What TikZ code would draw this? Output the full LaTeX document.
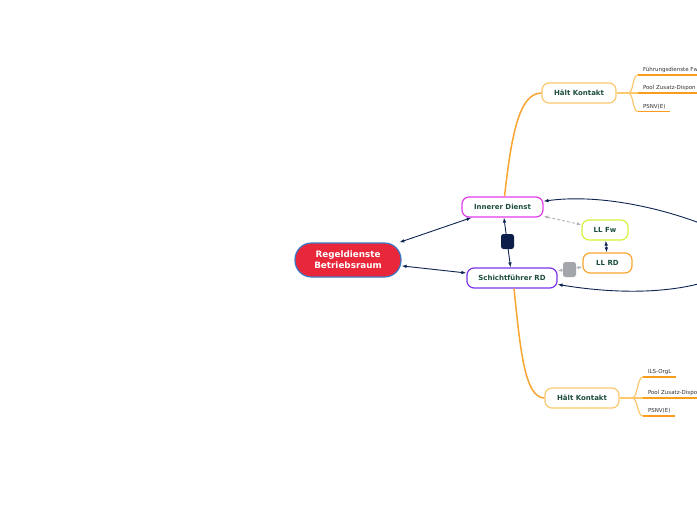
\documentclass[tikz,border=0pt]{standalone}
\usepackage{fontspec}
\setmainfont{DejaVu Sans}
\usetikzlibrary{arrows.meta}
\definecolor{redfill}{HTML}{E8283A}
\definecolor{rbborder}{HTML}{3B7AC5}
\definecolor{magentab}{HTML}{E23BEB}
\definecolor{purpleb}{HTML}{7B35E8}
\definecolor{limeb}{HTML}{D9F03C}
\definecolor{orangeb}{HTML}{F9A531}
\definecolor{lightorange}{HTML}{FDC76E}
\definecolor{underl}{HTML}{F99D1C}
\definecolor{navyc}{HTML}{0E2452}
\definecolor{navysq}{HTML}{0C1F4A}
\definecolor{graysq}{HTML}{A3A7AC}
\definecolor{grayline}{HTML}{B0B4B8}
\definecolor{dgreen}{HTML}{1D4D40}
\definecolor{leaftext}{HTML}{333333}
\begin{document}
\begin{tikzpicture}[x=1pt,y=-1pt,
  box/.style={draw, rounded corners=7pt, line width=1.2pt, fill=white,
    font=\bfseries\fontsize{7}{8}\selectfont, text=dgreen,
    minimum height=20pt, inner sep=0pt},
  rootbox/.style={draw=rbborder, fill=redfill, rounded corners=16.5pt, line width=1.2pt,
    font=\bfseries\fontsize{8.8}{11}\selectfont, text=white, align=center,
    minimum width=106pt, minimum height=34pt, inner sep=0pt},
  leaf/.style={anchor=south west, font=\fontsize{5.5}{6}\selectfont, text=leaftext,
    inner xsep=5pt, inner ysep=2.5pt, outer sep=0pt},
  navyarrow/.style={draw=navyc, line width=0.9pt,
    {Latex[length=5pt,width=3.6pt]}-{Latex[length=5pt,width=3.6pt]}},
  navyend/.style={draw=navyc, line width=0.9pt, -{Latex[length=5pt,width=3.6pt]}},
  grayarrow/.style={draw=grayline, line width=0.9pt, dash pattern=on 3pt off 2pt,
    {Latex[length=4.5pt,width=3.4pt]}-{Latex[length=4.5pt,width=3.4pt]}},
  trunk/.style={draw=orangeb, line width=1.5pt},
  branch/.style={draw=lightorange, line width=1.2pt},
  uline/.style={draw=underl, line width=1.6pt},
  sq/.style={rounded corners=2.5pt, minimum width=13pt, minimum height=15pt, inner sep=0pt}
]
\clip (0,0) rectangle (697,520);
\fill[white] (0,0) rectangle (697,520);

% nodes
\node[rootbox] (RB) at (348,260) {Regeldienste\\Betriebsraum};
\node[box, draw=magentab, minimum width=81pt] (ID) at (502.5,207) {Innerer Dienst};
\node[box, draw=purpleb, minimum width=90pt] (SF) at (512,278) {Schichtführer RD};
\node[box, draw=limeb, minimum width=46pt] (LLFw) at (605,230) {LL Fw};
\node[box, draw=orangeb, minimum width=49pt] (LLRD) at (607.5,263) {LL RD};
\node[box, draw=lightorange, minimum width=74pt] (HK1) at (579,93) {Hält Kontakt};
\node[box, draw=lightorange, minimum width=74pt] (HK2) at (582,398) {Hält Kontakt};

% off-picture endpoint of the long connectors
\coordinate (X) at (760,252);

% trunks
\draw[trunk] ([xshift=2pt]ID.north) .. controls (511,140) and (518,93) .. (HK1.west);
\draw[trunk] ([xshift=2pt]SF.south) .. controls (520,345) and (524,398) .. (HK2.west);

% leaves top
\node[leaf] (t1) at (638,75) {Führungsdienste Fw};
\node[leaf] (t2) at (638,93) {Pool Zusatz-Dispon};
\node[leaf] (t3) at (638,111.5) {PSNV(E)};
\coordinate (b1) at (628,93);
\draw[branch] (HK1.east) -- (b1);
\draw[branch] (b1) .. controls (634,93) and (632,75) .. (t1.south west);
\draw[branch] (b1) -- (t2.south west);
\draw[branch] (b1) .. controls (634,93) and (632,111.5) .. (t3.south west);
\draw[uline] (t1.south west) -- (700,75);
\draw[uline] (t2.south west) -- (700,93);
\draw[uline] (t3.south west) -- (t3.south east);

% leaves bottom
\node[leaf] (u1) at (643,377) {ILS-OrgL};
\node[leaf] (u2) at (643,398) {Pool Zusatz-Dispo};
\node[leaf] (u3) at (643,416) {PSNV(E)};
\coordinate (b2) at (632,398);
\draw[branch] (HK2.east) -- (b2);
\draw[branch] (b2) .. controls (638,398) and (637,377) .. (u1.south west);
\draw[branch] (b2) -- (u2.south west);
\draw[branch] (b2) .. controls (638,398) and (637,416) .. (u3.south west);
\draw[uline] (u1.south west) -- (u1.south east);
\draw[uline] (u2.south west) -- (700,398);
\draw[uline] (u3.south west) -- (u3.south east);

% navy connectors
\draw[navyarrow] (ID) -- (RB);
\draw[navyarrow] (SF) -- (RB);
\draw[navyarrow] (ID) -- (SF);
\draw[navyarrow] (LLFw) -- (LLRD);
\draw[navyend] (X) .. controls (700,215) and (610,192) .. (ID.8);
\draw[navyend] (X) .. controls (720,292) and (640,298) .. (SF.-8);

% gray dashed connectors
\draw[grayarrow] (ID) -- (LLFw);
\draw[grayarrow] (SF) -- (LLRD);

% connector markers
\node[sq, fill=navysq] (m1) at (507.5,241.5) {};
\node[sq, fill=graysq] (m2) at (569.5,269.5) {};
\end{tikzpicture}
\end{document}
